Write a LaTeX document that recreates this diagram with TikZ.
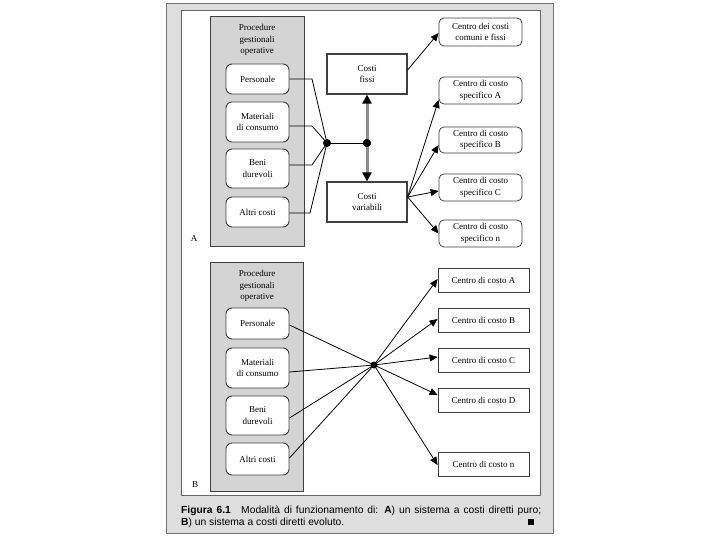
\documentclass[tikz,border=0pt]{standalone}
\usepackage{fontspec}
\setmainfont{Liberation Serif}
\newfontfamily\capfont{Liberation Sans}
\usetikzlibrary{arrows.meta}
\definecolor{pagegray}{gray}{0.87}
\definecolor{boxgray}{gray}{0.83}
\definecolor{edge}{gray}{0.25}
\tikzset{
  every node/.style={font=\fontsize{9}{11.5}\selectfont},
  grpbox/.style={draw=edge, line width=1pt, fill=boxgray, inner sep=0pt},
  procbox/.style={draw=edge, line width=0.9pt, fill=white, rounded corners=6pt, inner sep=0pt, align=center, minimum width=63pt},
  costbox/.style={draw=edge, line width=1.2pt, fill=white, inner sep=0pt, align=center, minimum width=80pt, minimum height=40pt},
  ctrbox/.style={draw=edge, line width=0.8pt, fill=white, rounded corners=5pt, inner sep=0pt, align=center, minimum width=83pt},
  ctrbbox/.style={draw=edge, line width=0.8pt, fill=white, inner sep=0pt, align=center, minimum width=91pt, minimum height=24pt},
  plain/.style={inner sep=0pt, align=center},
  dot/.style={circle, fill=black, inner sep=0pt, minimum size=8pt},
  conn/.style={draw=black, line width=0.8pt},
  arr/.style={conn, -{Triangle[length=8pt,width=7pt]}},
  dblarr/.style={draw=black!45, line width=3pt, {Triangle[length=9pt,width=9pt,color=black]}-{Triangle[length=9pt,width=9pt,color=black]}},
  captext/.style={inner sep=0pt, anchor=base west, font=\capfont\fontsize{10.3}{12}\selectfont},
}
\begin{document}
\begin{tikzpicture}[x=1pt,y=-1pt]
\useasboundingbox (0,0) rectangle (720,540);
% page
\fill[white] (0,0) rectangle (720,540);
\draw[fill=pagegray, draw=black!55, line width=0.8pt] (166,3) rectangle (553,533);
\draw[fill=white, draw=black!60, line width=0.8pt] (181,10) rectangle (540,495);

% ---------- Panel A ----------
\node[grpbox, minimum width=94pt, minimum height=229pt] (gA) at (257,131.5) {};
\node[plain] (tA) at (257,40) {Procedure\\gestionali\\operative};
\node[procbox, minimum height=30pt] (pA1) at (257.5,79) {Personale};
\node[procbox, minimum height=40pt] (pA2) at (257.5,122) {Materiali\\di consumo};
\node[procbox, minimum height=39pt] (pA3) at (257.5,168.5) {Beni\\durevoli};
\node[procbox, minimum height=30pt] (pA4) at (257.5,212) {Altri costi};
\node[plain] (lA) at (194,239) {A};

\node[costbox] (fissi) at (367,74) {Costi\\fissi};
\node[costbox] (var) at (367,202) {Costi\\variabili};

\node[ctrbox, minimum height=28pt] (comuni) at (480.5,32) {Centro dei costi\\comuni e fissi};
\node[ctrbox, minimum height=27pt] (sA) at (480.5,90.5) {Centro di costo\\specifico A};
\node[ctrbox, minimum height=26pt] (sB) at (480.5,140) {Centro di costo\\specifico B};
\node[ctrbox, minimum height=27pt] (sC) at (480.5,187.5) {Centro di costo\\specifico C};
\node[ctrbox, minimum height=27pt] (sN) at (480.5,233.5) {Centro di costo\\specifico n};

\coordinate (kA1) at (312,79);
\coordinate (kA2) at (312,126);
\coordinate (kA3) at (312,165);
\coordinate (kA4) at (310,213);
\node[dot] (jA) at (327,143) {};
\node[dot] (jA2) at (367,143) {};

\draw[conn] (pA1.east) -- (kA1) -- (jA.center);
\draw[conn] ([yshift=-4pt]pA2.east) -- (kA2) -- (jA.center);
\draw[conn] ([yshift=3.5pt]pA3.east) -- (kA3) -- (jA.center);
\draw[conn] ([yshift=-1pt]pA4.east) -- (kA4) -- (jA.center);
\draw[conn] (jA.center) -- (jA2.center);
\draw[dblarr] (fissi.south) -- (var.north);
\node[dot] at (jA2) {};

\draw[arr] ([yshift=4pt]fissi.east) -- ([yshift=-1pt]comuni.west);
\draw[arr] ([yshift=5pt]var.east) -- ([yshift=-9.5pt]sA.west);
\draw[arr] ([yshift=5pt]var.east) -- ([yshift=-5pt]sB.west);
\draw[arr] ([yshift=5pt]var.east) -- ([yshift=-3.5pt]sC.west);
\draw[arr] ([yshift=5pt]var.east) -- (sN.west);

% ---------- Panel B ----------
\node[grpbox, minimum width=93pt, minimum height=229pt] (gB) at (256.5,376.5) {};
\node[plain] (tB) at (257,286) {Procedure\\gestionali\\operative};
\node[procbox, minimum height=31pt] (pB1) at (257.5,323.5) {Personale};
\node[procbox, minimum height=40pt] (pB2) at (257.5,368) {Materiali\\di consumo};
\node[procbox, minimum height=39pt] (pB3) at (257.5,415.5) {Beni\\durevoli};
\node[procbox, minimum height=32pt] (pB4) at (257.5,459) {Altri costi};
\node[plain] (lB) at (195,485) {B};

\node[ctrbbox] (cA) at (483.5,280) {Centro di costo A};
\node[ctrbbox] (cB) at (483.5,320) {Centro di costo B};
\node[ctrbbox] (cC) at (483.5,360) {Centro di costo C};
\node[ctrbbox] (cD) at (483.5,400) {Centro di costo D};
\node[ctrbbox] (cN) at (483.5,464) {Centro di costo n};

\node[dot, minimum size=7pt] (jB) at (374,365) {};
\draw[conn] ([yshift=-1.5pt]pB1.east) -- (jB.center);
\draw[conn] ([yshift=-4pt]pB2.east) -- (jB.center);
\draw[conn] ([yshift=-2.5pt]pB3.east) -- (jB.center);
\draw[conn] ([yshift=1pt]pB4.east) -- (jB.center);
\draw[arr] (jB.center) -- ([yshift=1pt]cA.west);
\draw[arr] (jB.center) -- ([yshift=1pt]cB.west);
\draw[arr] (jB.center) -- ([yshift=3pt]cC.west);
\draw[arr] (jB.center) -- ([yshift=5pt]cD.west);
\draw[arr] (jB.center) -- ([yshift=-1pt]cN.west);

% ---------- Caption ----------
\node[captext] (cap1) at (181,513)
  {\makebox[360pt][s]{\textbf{Figura 6.1}\hspace{1em}Modalità di funzionamento di: \textbf{A}) un sistema a costi diretti puro;}};
\node[captext] (cap2) at (181,525.5)
  {\textbf{B}) un sistema a costi diretti evoluto.};
\node[fill=black, inner sep=0pt, minimum size=6.5pt] (sq) at (531,522) {};
\end{tikzpicture}
\end{document}
